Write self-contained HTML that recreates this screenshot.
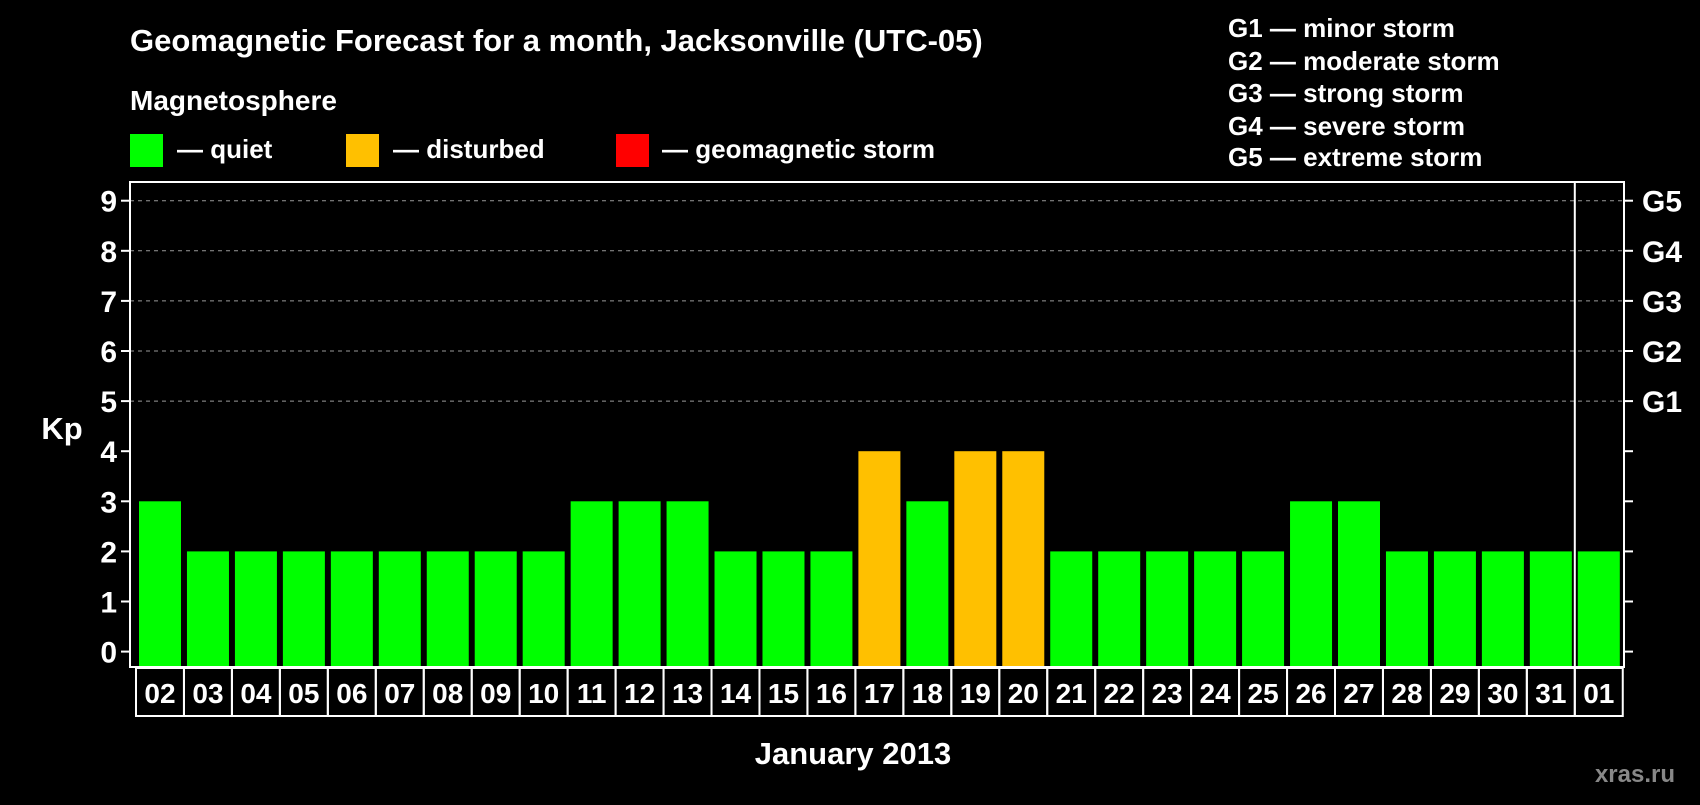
<!DOCTYPE html>
<html><head><meta charset="utf-8"><style>
body{margin:0;background:#000;width:1700px;height:800px;overflow:hidden;font-family:"Liberation Sans",sans-serif;font-weight:bold;color:#fff}
svg text{font-family:"Liberation Sans",sans-serif;font-weight:bold}
</style></head><body>
<svg width="1700" height="800">
<text x="130" y="51" font-size="31" fill="#fff">Geomagnetic Forecast for a month, Jacksonville (UTC-05)</text>
<text x="130" y="110" font-size="28" fill="#fff">Magnetosphere</text>
<g><rect x="130" y="134" width="33" height="33" fill="#00ff00"/><text x="177" y="158" font-size="26" fill="#fff">— quiet</text></g>
<g><rect x="346" y="134" width="33" height="33" fill="#ffc000"/><text x="393" y="158" font-size="26" fill="#fff">— disturbed</text></g>
<g><rect x="616" y="134" width="33" height="33" fill="#ff0000"/><text x="662" y="158" font-size="26" fill="#fff">— geomagnetic storm</text></g>
<g font-size="26" fill="#fff">
<text x="1228" y="37">G1 — minor storm</text>
<text x="1228" y="70">G2 — moderate storm</text>
<text x="1228" y="102">G3 — strong storm</text>
<text x="1228" y="135">G4 — severe storm</text>
<text x="1228" y="166">G5 — extreme storm</text>
</g>
<g id="plot"></g>
<text x="853" y="764" font-size="31" text-anchor="middle" fill="#fff">January 2013</text>
<text x="62" y="439" font-size="31" text-anchor="middle" fill="#fff">Kp</text>
<text x="1675" y="782" font-size="24" text-anchor="end" fill="#888">xras.ru</text>
</svg>
<script>
const days=["02","03","04","05","06","07","08","09","10","11","12","13","14","15","16","17","18","19","20","21","22","23","24","25","26","27","28","29","30","31","01"];
const kp=[3,2,2,2,2,2,2,2,2,3,3,3,2,2,2,4,3,4,4,2,2,2,2,2,3,3,2,2,2,2,2];
const yTicks=[0,1,2,3,4,5,6,7,8,9];
const gLabels=["G1","G2","G3","G4","G5"];
const NS="http://www.w3.org/2000/svg";
const g=document.getElementById('plot');
const L=130,R=1624,T=182,B=667,x0=139,pitch=47.96,bw=42;
const y=v=>651.6-v*50.1;
const xb=i=>x0+i*pitch;
function mk(t,a){const e=document.createElementNS(NS,t);for(const k in a)e.setAttribute(k,a[k]);g.appendChild(e);return e;}
yTicks.forEach(v=>{
 if(v>=5){const l=mk('line',{x1:L,x2:R,y1:y(v),y2:y(v),stroke:'#999','stroke-dasharray':'4,4','stroke-width':1});
 
 }
 const t1=mk('line',{x1:121,x2:L,y1:y(v),y2:y(v),stroke:'#fff','stroke-width':2});
 
 
 const t2=mk('line',{x1:R,x2:1633,y1:y(v),y2:y(v),stroke:'#fff','stroke-width':2});
 
 
 const tx=mk('text',{x:117,y:y(v)+11,'font-size':30,'text-anchor':'end',fill:'#fff'});tx.textContent=v;
 
 
});
gLabels.forEach((s,i)=>{const tx=mk('text',{x:1642,y:y(5+i)+11,'font-size':30,fill:'#fff'});tx.textContent=s;
 
 });
kp.forEach((v,i)=>{
 const c=v>=5?'#ff0000':(v>=4?'#ffc000':'#00ff00');
 const r=mk('rect',{x:xb(i),y:y(v),width:bw,height:B-1-y(v),fill:c});
 
 
 const bx=mk('rect',{x:xb(i)-3,y:B+1,width:pitch,height:48,fill:'none',stroke:'#fff','stroke-width':2});
 
 
 const tx=mk('text',{x:xb(i)+bw/2,y:B+36,'font-size':28,'text-anchor':'middle',fill:'#fff'});tx.textContent=days[i];
 
 
});
const f=mk('rect',{x:L,y:T,width:R-L,height:B-T,fill:'none',stroke:'#fff','stroke-width':2});


const sep=mk('line',{x1:xb(30)-3,x2:xb(30)-3,y1:T,y2:B,stroke:'#fff','stroke-width':2});


</script>
</body></html>
